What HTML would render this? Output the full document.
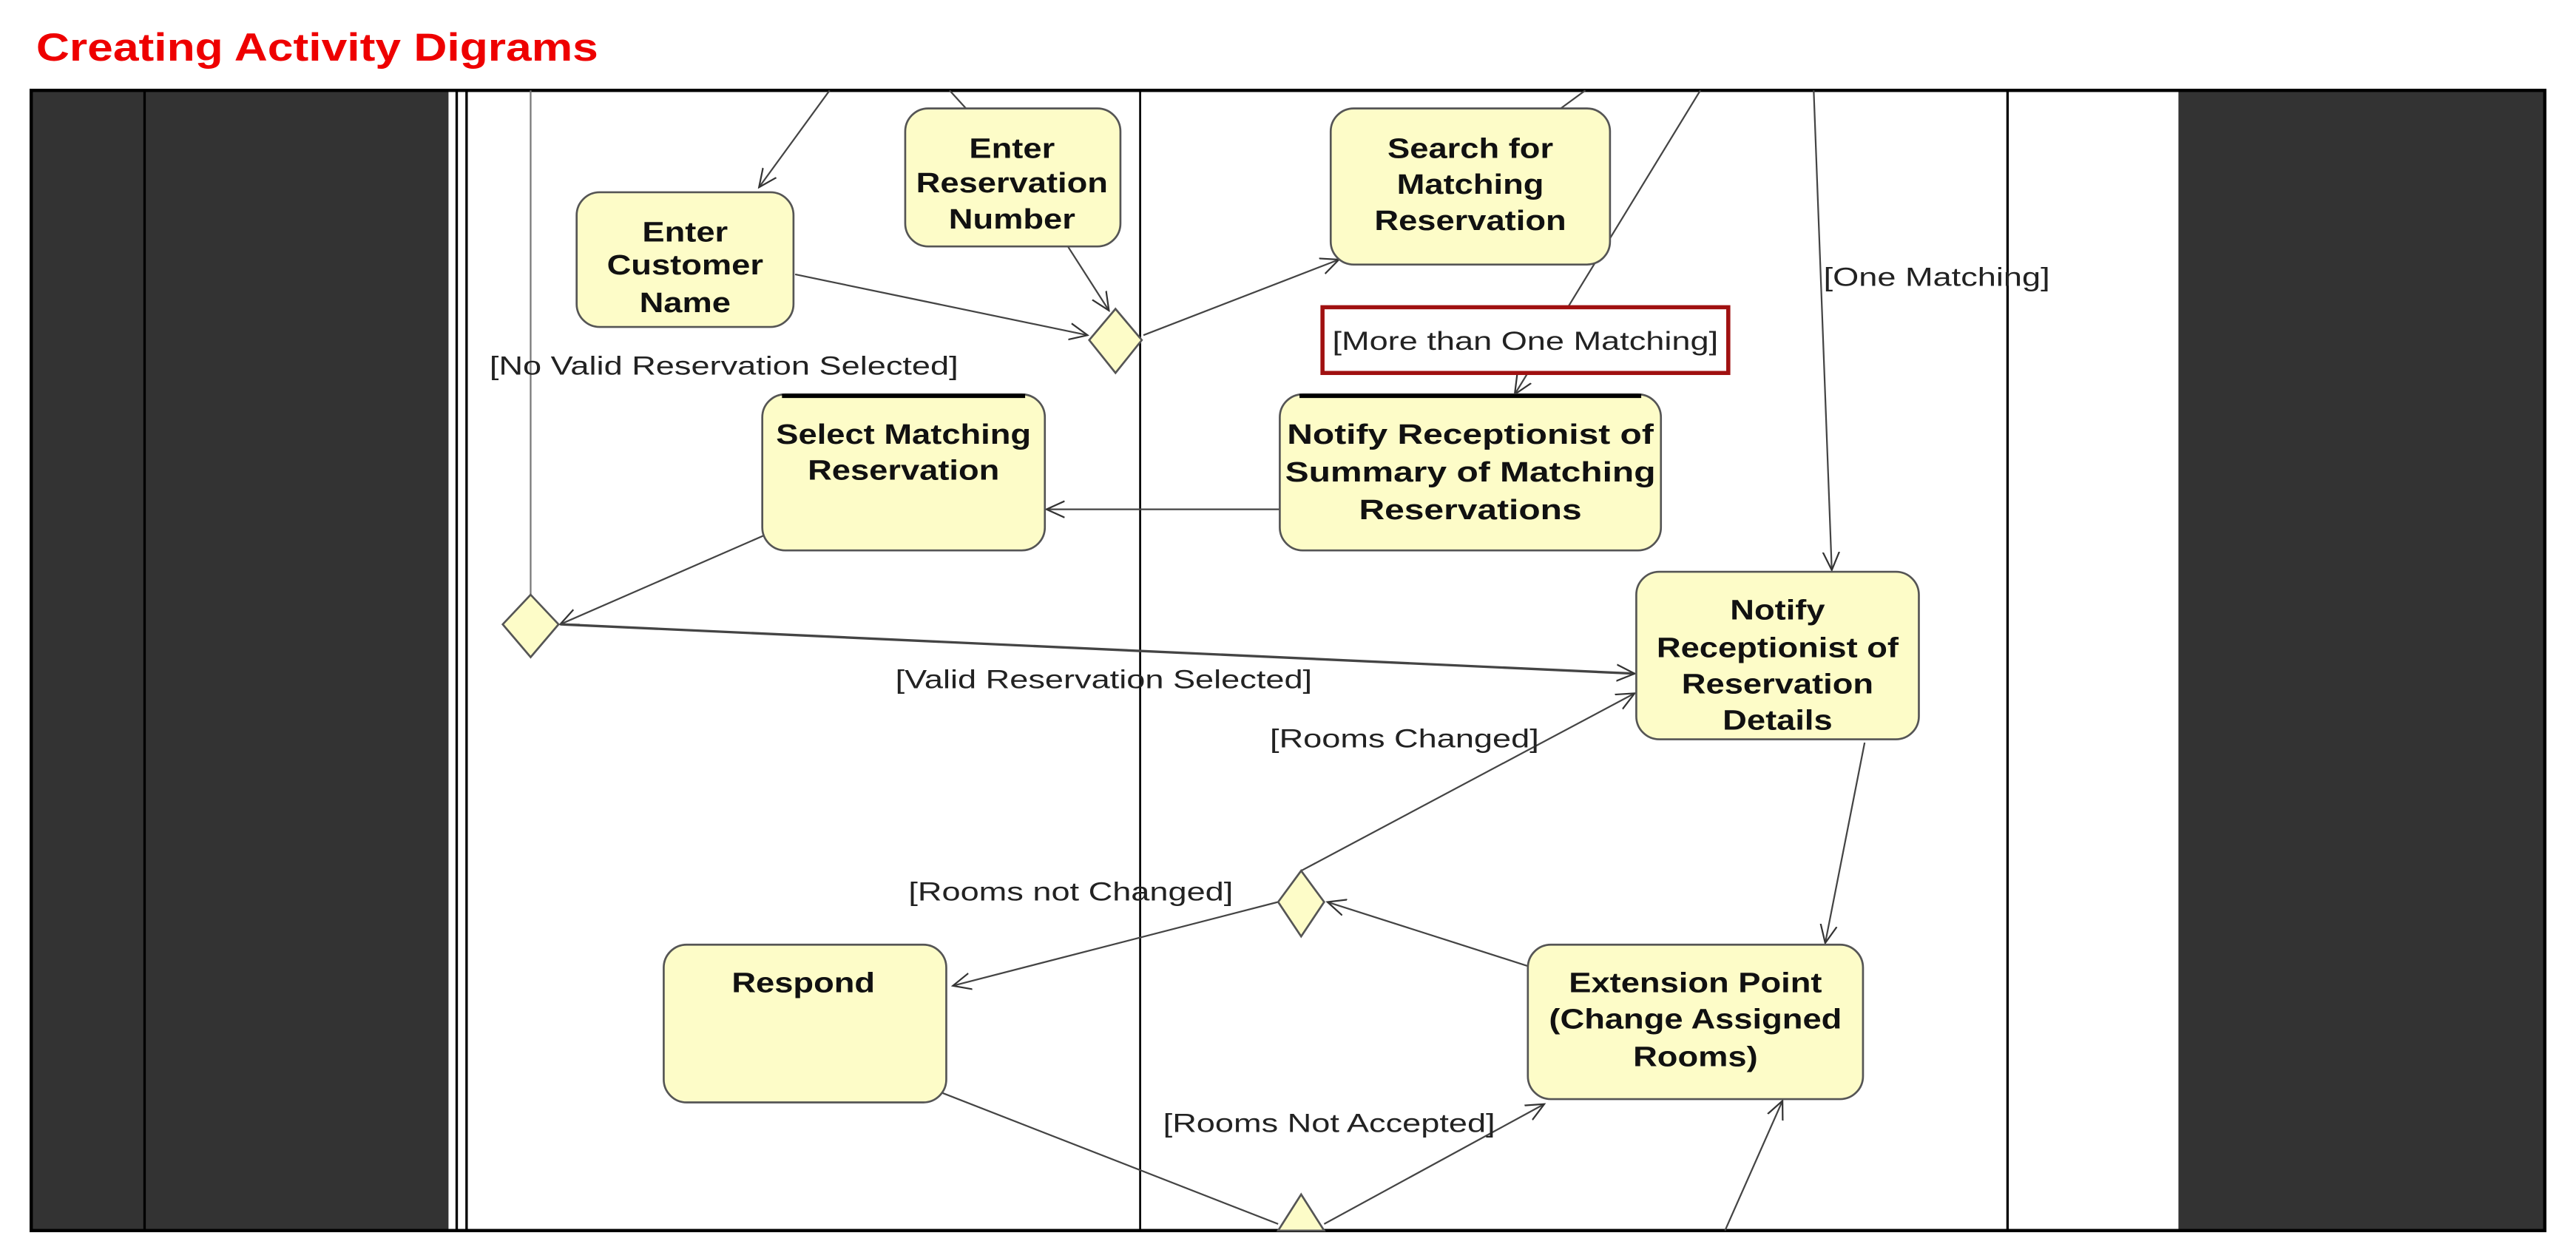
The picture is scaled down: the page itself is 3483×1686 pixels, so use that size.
<!DOCTYPE html>
<html><head><meta charset="utf-8"><style>
html,body{margin:0;padding:0;background:#fff;width:3483px;height:1686px;overflow:hidden}
svg{display:block}
text{font-family:"Liberation Sans",Arial,sans-serif}
</style></head><body>
<svg width="3483" height="1686" viewBox="0 0 1568 759" xmlns="http://www.w3.org/2000/svg">
<defs>
<marker id="a" markerWidth="12" markerHeight="12" refX="11" refY="6" orient="auto" markerUnits="userSpaceOnUse">
<path d="M0,1 L11,6 L0,11" fill="none" stroke="#333" stroke-width="1"/></marker>
</defs>
<text x="22" y="37" font-size="24" font-weight="bold" fill="#ee0000" transform="translate(22 0) scale(1.17 1) translate(-22 0)">Creating Activity Digrams</text>
<rect x="19" y="55" width="1530" height="694" fill="#fff"/>
<rect x="19" y="55" width="254" height="694" fill="#333"/>
<rect x="1326" y="55" width="223" height="694" fill="#333"/>
<line x1="88" y1="55" x2="88" y2="749" stroke="#000" stroke-width="1.5"/>
<line x1="278" y1="55" x2="278" y2="749" stroke="#000" stroke-width="1.5"/>
<line x1="284" y1="55" x2="284" y2="749" stroke="#000" stroke-width="1.5"/>
<line x1="694" y1="55" x2="694" y2="749" stroke="#000" stroke-width="1.2"/>
<line x1="1222" y1="55" x2="1222" y2="749" stroke="#000" stroke-width="1.5"/>
<rect x="19" y="55" width="1530" height="694" fill="none" stroke="#000" stroke-width="2"/>

<g stroke="#444" stroke-width="1" fill="none">
<line x1="505" y1="55" x2="462" y2="114" marker-end="url(#a)"/>
<line x1="578" y1="55" x2="588" y2="66"/>
<line x1="484" y1="167" x2="662" y2="204" marker-end="url(#a)"/>
<line x1="650" y1="150" x2="675" y2="189" marker-end="url(#a)"/>
<line x1="696" y1="204" x2="815" y2="158" marker-end="url(#a)"/>
<line x1="965" y1="55" x2="950" y2="66"/>
<line x1="1035" y1="55" x2="922" y2="240" marker-end="url(#a)"/>
<line x1="1104" y1="55" x2="1115" y2="347" marker-end="url(#a)"/>
<line x1="779" y1="310" x2="637" y2="310" marker-end="url(#a)"/>
<line x1="474" y1="322" x2="341" y2="380" marker-end="url(#a)"/>
<line x1="323" y1="55" x2="323" y2="362" stroke="#777"/>
<line x1="341" y1="380" x2="995" y2="410" marker-end="url(#a)" stroke-width="1.5"/>
<line x1="792" y1="530" x2="995" y2="422" marker-end="url(#a)"/>
<line x1="930" y1="588" x2="808" y2="549" marker-end="url(#a)"/>
<line x1="778" y1="549" x2="580" y2="600" marker-end="url(#a)"/>
<line x1="1135" y1="452" x2="1111" y2="574" marker-end="url(#a)"/>
<line x1="573" y1="665" x2="778" y2="745"/>
<line x1="806" y1="745" x2="940" y2="672" marker-end="url(#a)"/>
<line x1="1050" y1="749" x2="1085" y2="670" marker-end="url(#a)"/>
</g>

<g fill="#fdfcc8" stroke="#555" stroke-width="1.2">
<rect x="551" y="66" width="131" height="84" rx="14"/>
<rect x="351" y="117" width="132" height="82" rx="14"/>
<rect x="810" y="66" width="170" height="95" rx="14"/>
<rect x="464" y="240" width="172" height="95" rx="14"/>
<rect x="779" y="240" width="232" height="95" rx="14"/>
<rect x="996" y="348" width="172" height="102" rx="14"/>
<rect x="404" y="575" width="172" height="96" rx="14"/>
<rect x="930" y="575" width="204" height="94" rx="14"/>
<path d="M679,188 L695,207 L679,227 L663,207Z"/>
<path d="M323,362 L340,380 L323,400 L306,380Z"/>
<path d="M792,530 L806,549 L792,570 L778,549Z"/>
<path d="M792,727 L806,749 L778,749Z"/>
</g>
<g stroke="#000" stroke-width="2.5">
<line x1="476" y1="241" x2="624" y2="241"/>
<line x1="791" y1="241" x2="999" y2="241"/>
</g>
<rect x="805" y="187" width="247" height="40" fill="#fff" stroke="#a01010" stroke-width="2.5"/>

<g font-size="17" font-weight="bold" fill="#111" text-anchor="middle">
<g transform="translate(616 0) scale(1.2 1) translate(-616 0)"><text x="616" y="96">Enter</text><text x="616" y="117">Reservation</text><text x="616" y="139">Number</text></g>
<g transform="translate(417 0) scale(1.2 1) translate(-417 0)"><text x="417" y="147">Enter</text><text x="417" y="167">Customer</text><text x="417" y="190">Name</text></g>
<g transform="translate(895 0) scale(1.2 1) translate(-895 0)"><text x="895" y="96">Search for</text><text x="895" y="118">Matching</text><text x="895" y="140">Reservation</text></g>
<g transform="translate(550 0) scale(1.2 1) translate(-550 0)"><text x="550" y="270">Select Matching</text><text x="550" y="292">Reservation</text></g>
<g transform="translate(895 0) scale(1.27 1) translate(-895 0)"><text x="895" y="270">Notify Receptionist of</text><text x="895" y="293">Summary of Matching</text><text x="895" y="316">Reservations</text></g>
<g transform="translate(1082 0) scale(1.2 1) translate(-1082 0)"><text x="1082" y="377">Notify</text><text x="1082" y="400">Receptionist of</text><text x="1082" y="422">Reservation</text><text x="1082" y="444">Details</text></g>
<g transform="translate(489 0) scale(1.2 1) translate(-489 0)"><text x="489" y="604">Respond</text></g>
<g transform="translate(1032 0) scale(1.2 1) translate(-1032 0)"><text x="1032" y="604">Extension Point</text><text x="1032" y="626">(Change Assigned</text><text x="1032" y="649">Rooms)</text></g>
</g>
<g font-size="16" fill="#222">
<text x="811" y="213" transform="translate(811 0) scale(1.27 1) translate(-811 0)">[More than One Matching]</text>
<text x="1110" y="174" transform="translate(1110 0) scale(1.27 1) translate(-1110 0)">[One Matching]</text>
<text x="298" y="228" transform="translate(298 0) scale(1.27 1) translate(-298 0)">[No Valid Reservation Selected]</text>
<text x="545" y="419" transform="translate(545 0) scale(1.27 1) translate(-545 0)">[Valid Reservation Selected]</text>
<text x="773" y="455" transform="translate(773 0) scale(1.27 1) translate(-773 0)">[Rooms Changed]</text>
<text x="553" y="548" transform="translate(553 0) scale(1.27 1) translate(-553 0)">[Rooms not Changed]</text>
<text x="708" y="689" transform="translate(708 0) scale(1.27 1) translate(-708 0)">[Rooms Not Accepted]</text>
</g>
</svg>
</body></html>
